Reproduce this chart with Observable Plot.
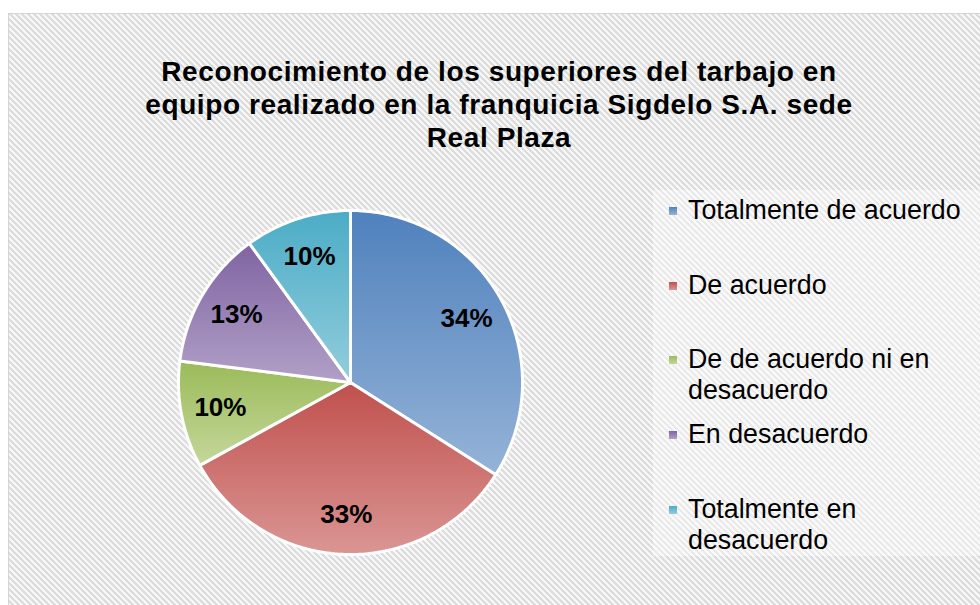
<!DOCTYPE html>
<html>
<head>
<meta charset="utf-8">
<script src="https://cdn.jsdelivr.net/npm/d3@7"></script>
<script src="https://cdn.jsdelivr.net/npm/@observablehq/plot@0.6"></script>
<style>
  html, body { margin: 0; padding: 0; background: #ffffff; }
  body { width: 980px; height: 605px; overflow: hidden; position: relative; font-family: "Liberation Sans", Arial, sans-serif; }
  #frame {
    position: absolute; left: 8px; top: 13px; width: 990px; height: 600px;
    border: 1px solid #d4d4d4; background-color: #ececec;
  }
  #title {
    position: absolute; left: 8px; width: 982px; top: 55px;
    text-align: center; font-weight: bold; font-size: 28px; letter-spacing: 0.6px; line-height: 33px; color: #000;
  }
  #chart { position: absolute; left: 170px; top: 202px; }
  #legend {
    position: absolute; left: 653px; top: 190px; width: 340px; height: 366px;
    background: rgba(255,255,255,0.4);
  }
  .item { position: absolute; left: 35px; width: 300px; font-size: 26.8px; line-height: 31px; color: #000; }
  .mark { position: absolute; left: -19px; top: 12px; width: 8px; height: 8px; }
</style>
</head>
<body>
<svg width="0" height="0" style="position:absolute">
  <defs id="grads"></defs>
</svg>
<div id="frame"></div>
<div id="title"></div>
<div id="chart"></div>
<div id="legend"></div>
<script>
const titleLines = ["Reconocimiento de los superiores del tarbajo en", "equipo realizado en la franquicia Sigdelo S.A. sede", "Real Plaza"];
const categories = ["Totalmente de acuerdo", "De acuerdo", "De de acuerdo ni en desacuerdo", "En desacuerdo", "Totalmente en desacuerdo"];
const legendLines = [["Totalmente de acuerdo"], ["De acuerdo"], ["De de acuerdo ni en", "desacuerdo"], ["En desacuerdo"], ["Totalmente en", "desacuerdo"]];
const values = [34, 33, 10, 13, 10];
const colorTop = ["#4f81bd", "#c0504d", "#9bbb59", "#8064a2", "#4bacc6"];
const colorBottom = ["#95b3d7", "#da9694", "#c4d79b", "#b1a0c7", "#92cddc"];

// hatched background tile (diagonal stripes)
{
  let rects = "";
  for (let y = 0; y < 6; ++y) for (let k = 0; k < 3; ++k) rects += `<rect x='${(y + k) % 6}' y='${y}' width='1' height='1'/>`;
  const tile = `<svg xmlns='http://www.w3.org/2000/svg' width='6' height='6' shape-rendering='crispEdges'><rect width='6' height='6' fill='#f7f7f7'/><g fill='#dcdcdc'>${rects}</g></svg>`;
  document.getElementById("frame").style.backgroundImage = `url("data:image/svg+xml,${encodeURIComponent(tile)}")`;
}

// gradients
const defs = d3.select("#grads");
categories.forEach((c, i) => {
  const g = defs.append("linearGradient").attr("id", "g" + i).attr("x1", 0).attr("y1", 0).attr("x2", 0).attr("y2", 1);
  g.append("stop").attr("offset", "0%").attr("stop-color", colorTop[i]);
  g.append("stop").attr("offset", "100%").attr("stop-color", colorBottom[i]);
});

// title
d3.select("#title").html(titleLines.join("<br>"));

// pie geometry from values
const total = d3.sum(values);
let acc = 0;
const slices = values.map((v, i) => {
  const a0 = acc / total * 2 * Math.PI;
  acc += v;
  const a1 = acc / total * 2 * Math.PI;
  const n = Math.max(2, Math.ceil((a1 - a0) / (Math.PI / 180)));
  const pts = [{x: 0, y: 0}];
  for (let k = 0; k <= n; ++k) {
    const a = a0 + (a1 - a0) * k / n;
    pts.push({x: Math.sin(a), y: Math.cos(a)});
  }
  pts.push({x: 0, y: 0});
  const am = (a0 + a1) / 2;
  return {i, pts, label: {x: 0.77 * Math.sin(am), y: 0.77 * Math.cos(am), text: Math.round(v / total * 100) + "%"}};
});

const R = 180 / 172;
const chart = Plot.plot({
  width: 360, height: 360, margin: 0,
  x: {domain: [-R, R], axis: null},
  y: {domain: [-R, R], axis: null},
  style: {background: "transparent", overflow: "visible", fontFamily: "'Liberation Sans', Arial, sans-serif"},
  marks: [
    ...slices.map(s => Plot.line(s.pts, {x: "x", y: "y", fill: `url(#g${s.i})`, stroke: "white", strokeWidth: 3, strokeLinejoin: "miter"})),
    Plot.text(slices.map(s => s.label), {x: "x", y: "y", text: "text", fontSize: 26, fontWeight: "bold", fill: "black"})
  ]
});
document.getElementById("chart").appendChild(chart);

// legend
const leg = d3.select("#legend");
legendLines.forEach((lines, i) => {
  const it = leg.append("div").attr("class", "item").style("top", (5 + i * 74.7) + "px");
  it.append("div").attr("class", "mark").style("background", `linear-gradient(${colorTop[i]}, ${colorBottom[i]})`);
  it.append("span").html(lines.join("<br>"));
});
</script>
</body>
</html>
